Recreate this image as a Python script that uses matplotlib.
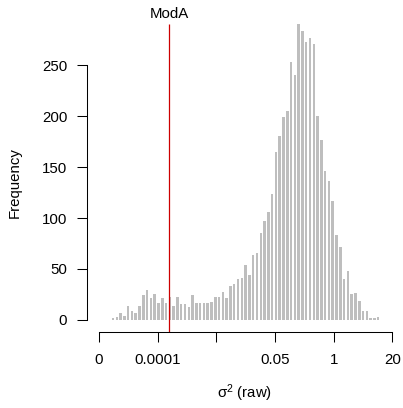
import numpy as np
import matplotlib
matplotlib.use("Agg")
import matplotlib.pyplot as plt

# histogram counts (bins equally spaced in log(sigma^2))
counts = [2, 3, 7, 4, 14, 9, 7, 14, 24, 29, 21, 25, 17, 21, 17, 22, 14, 22, 16, 16,
          13, 24, 17, 17, 17, 17, 18, 22, 22, 27, 21, 33, 35, 40, 41, 54, 44, 64, 66, 85,
          97, 106, 124, 165, 181, 199, 205, 253, 241, 291, 284, 273, 277, 271, 200, 177, 146, 136, 117, 83,
          72, 40, 48, 25, 26, 19, 9, 9, 2, 2, 3]
log_lo, log_hi = -11.381, 2.376      # first / last bin edge, natural log scale
moda = 2.2e-4                        # ModA estimate

tick_vals = np.exp([-12, -9, -6, -3, 0, 3])
tick_labels = ['0', '0.0001', '', '0.05', '1', '20']
y_ticks = [0, 50, 100, 150, 200, 250]

plt.rcParams['font.family'] = ['Liberation Sans', 'DejaVu Sans']
plt.rcParams['mathtext.fontset'] = 'custom'
plt.rcParams['mathtext.rm'] = 'Liberation Sans'
plt.rcParams['mathtext.it'] = 'Liberation Sans'

fig = plt.figure(figsize=(4.03, 4.08), dpi=100)
ax = fig.add_axes([86.7 / 403, 76.3 / 408, 1 - 86.7 / 403, (396.1 - 76.3) / 408])

ax.set_xscale('function', functions=(np.log, np.exp))

# bars a bit narrower than the bin, like R's hist with white borders
edges = np.linspace(log_lo, log_hi, len(counts) + 1)
centers = (edges[:-1] + edges[1:]) / 2
w = edges[1] - edges[0]
left = np.exp(centers - 0.33 * w)
right = np.exp(centers + 0.33 * w)
ax.bar(left, counts, width=right - left, align='edge', color='#BEBEBE', linewidth=0)

top = max(counts)
ymin, ymax = -0.04 * top, 1.04 * top
ax.set_ylim(ymin, ymax)
ax.set_xlim(np.exp(-12.629), np.exp(3.547))

ax.vlines(moda, ymin, top, color='#CD0000', lw=0.9, clip_on=False)
ax.annotate('ModA', (moda, top), xytext=(0, 2), textcoords='offset points',
            ha='center', va='bottom', fontsize=10.8)

ax.set_xticks(tick_vals)
ax.set_xticklabels(tick_labels)
ax.xaxis.set_minor_locator(matplotlib.ticker.NullLocator())
ax.set_yticks(y_ticks)

for s in ['top', 'right']:
    ax.spines[s].set_visible(False)
ax.spines['bottom'].set_bounds(tick_vals[0], tick_vals[-1])
ax.spines['left'].set_bounds(0, 250)
ax.spines['bottom'].set_linewidth(0.75)
ax.spines['left'].set_linewidth(0.75)
ax.tick_params(axis='both', length=7, width=0.75, labelsize=10.8)
ax.tick_params(axis='x', pad=8.5)
ax.tick_params(axis='y', pad=7)

ax.set_xlabel(r'$\mathregular{\sigma^2}$ (raw)', fontsize=10.8)
ax.set_ylabel('Frequency', fontsize=10.8)
ax.xaxis.set_label_coords(0.5, -0.16)
ax.yaxis.set_label_coords(-0.205, 0.465)

plt.savefig('out.png', dpi=100)
